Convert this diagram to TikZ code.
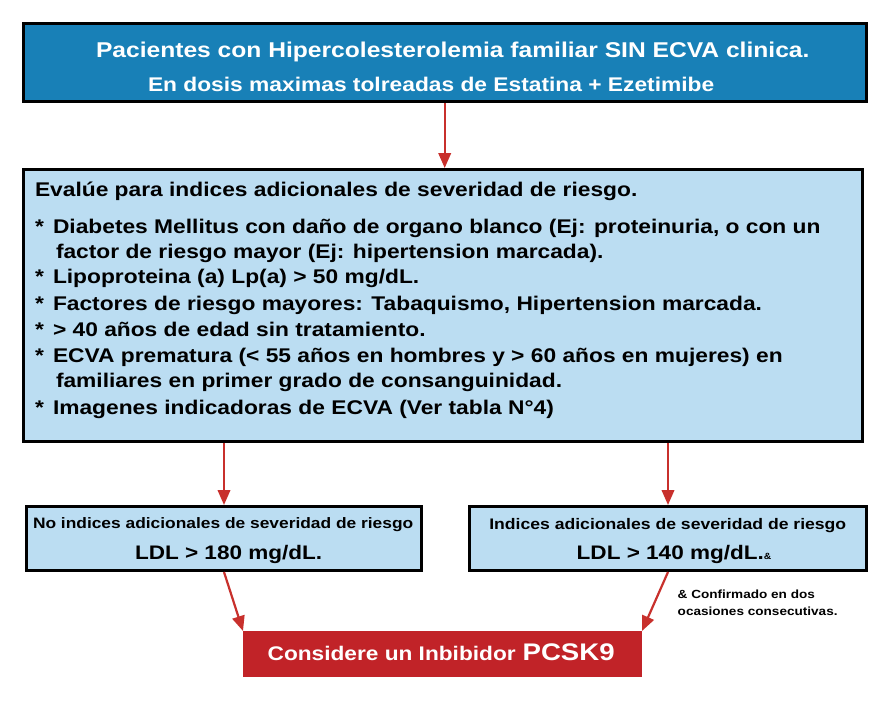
\documentclass[tikz,border=0pt]{standalone}
\usepackage{fontspec}
\setmainfont{Liberation Sans}[FakeStretch=1.15]
\usetikzlibrary{arrows.meta}
\definecolor{topblue}{RGB}{24,128,183}
\definecolor{lightblue}{RGB}{187,221,242}
\definecolor{boxred}{RGB}{193,35,40}
\definecolor{arrred}{RGB}{200,48,44}
\newcommand\fsz[1]{\fontsize{#1}{#1}\selectfont\bfseries}
\tikzset{
  box/.style={draw=black, line width=3pt, anchor=north west, inner sep=0pt},
  redbox/.style={fill=boxred, draw=none, anchor=north west, inner sep=0pt, outer sep=0pt},
  arr/.style={draw=arrred, line width=2.2pt, -{Triangle[length=15pt,width=12.5pt]}},
  txt/.style={anchor=base west, inner sep=0pt, outer sep=0pt},
}
\begin{document}
\begin{tikzpicture}[x=1pt,y=-1pt]
\useasboundingbox[fill=white] (0,0) rectangle (888,712);
% boxes
\node[box, fill=topblue, minimum width=843pt, minimum height=78pt] (top) at (21.7,22) {};
\node[box, fill=lightblue, minimum width=839.5pt, minimum height=272pt] (mid) at (21.5,168) {};
\node[box, fill=lightblue, minimum width=395pt, minimum height=64pt] (left) at (25,505) {};
\node[box, fill=lightblue, minimum width=397pt, minimum height=64pt] (right) at (468,505) {};
\node[redbox, minimum width=399pt, minimum height=46pt] (red) at (243,631) {};
% top texts
\node[txt, text=white, font=\fsz{21.4}] (t1) at (96,57.7) {Pacientes con Hipercolesterolemia familiar SIN ECVA clinica.};
\node[txt, text=white, font=\fsz{19.8}] (t2) at (148,91.7) {En dosis maximas tolreadas de Estatina + Ezetimibe};
% middle texts
\node[txt, font=\fsz{19.8}] (m0) at (35,196) {Evalúe para indices adicionales de severidad de riesgo.};
\node[txt, font=\fsz{19.8}] (s1) at (35,233) {*};
\node[txt, font=\fsz{19.8}] (m1) at (53,233) {Diabetes Mellitus con daño de organo blanco (Ej: proteinuria, o con un};
\node[txt, font=\fsz{19.8}] (m1b) at (56,258) {factor de riesgo mayor (Ej: hipertension marcada).};
\node[txt, font=\fsz{19.8}] (s2) at (35,283) {*};
\node[txt, font=\fsz{19.8}] (m2) at (53,283) {Lipoproteina (a) Lp(a) > 50 mg/dL.};
\node[txt, font=\fsz{19.8}] (s3) at (35,310) {*};
\node[txt, font=\fsz{19.8}] (m3) at (53,310) {Factores de riesgo mayores: Tabaquismo, Hipertension marcada.};
\node[txt, font=\fsz{19.8}] (s4) at (35,336) {*};
\node[txt, font=\fsz{19.8}] (m4) at (53,336) {> 40 años de edad sin tratamiento.};
\node[txt, font=\fsz{19.8}] (s5) at (35,362) {*};
\node[txt, font=\fsz{19.8}] (m5) at (53,362) {ECVA prematura (< 55 años en hombres y > 60 años en mujeres) en};
\node[txt, font=\fsz{19.8}] (m5b) at (56,387) {familiares en primer grado de consanguinidad.};
\node[txt, font=\fsz{19.8}] (s6) at (35,414) {*};
\node[txt, font=\fsz{19.8}] (m6) at (53,414) {Imagenes indicadoras de ECVA (Ver tabla N°4)};
% small boxes texts
\node[txt, font=\fsz{15.1}] (l1) at (33,528) {No indices adicionales de severidad de riesgo};
\node[txt, font=\fsz{19.6}] (l2) at (135,559) {LDL > 180 mg/dL.};
\node[txt, font=\fsz{15.3}] (r1) at (489.3,529) {Indices adicionales de severidad de riesgo};
\node[txt, font=\fsz{19.6}] (r2) at (576.7,559) {LDL > 140 mg/dL.{\fsz{9}\&}};
% red box text
\node[txt, text=white, font=\fsz{19.7}] (c1) at (267.7,660.7) {Considere un Inbibidor\hspace{7pt}{\fsz{24}PCSK9}};
% note
\node[txt, font=\fsz{11.8}] (n1) at (677.7,598) {\& Confirmado en dos};
\node[txt, font=\fsz{11.8}] (n2) at (677.7,615) {ocasiones consecutivas.};
% arrows
\draw[arr] (top.south) -- (top.south |- mid.north);
\draw[arr] (mid.south -| left.north) -- (left.north);
\draw[arr] (mid.south -| right.north) -- (right.north);
\draw[arr] (left.south) -- (red.north west);
\draw[arr] (right.south) -- (red.north east);
\end{tikzpicture}
\end{document}
